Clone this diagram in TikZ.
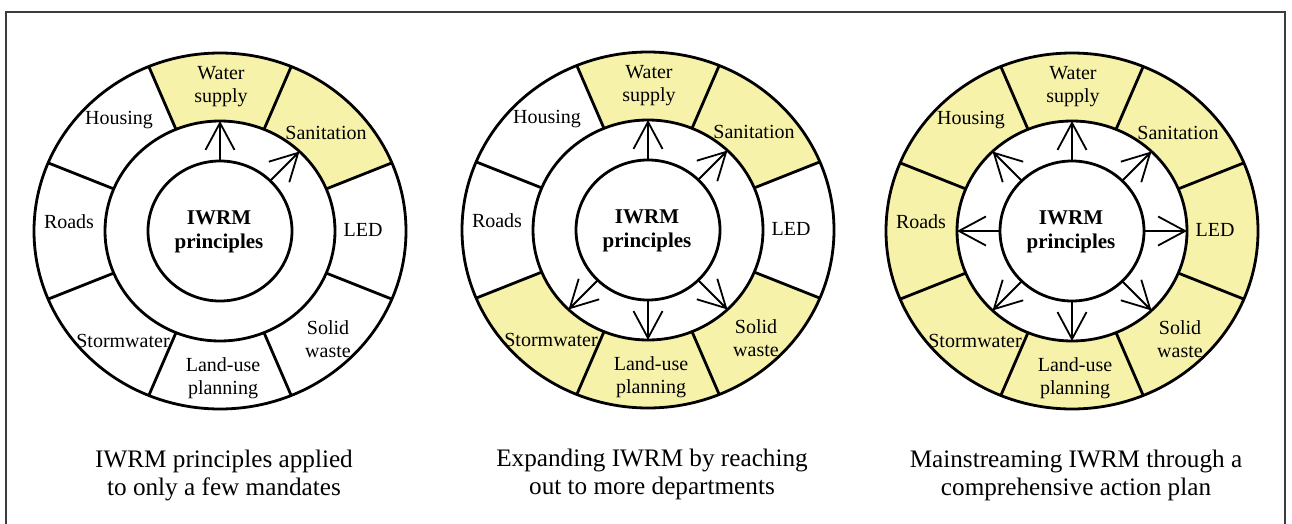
\documentclass[tikz,border=0pt]{standalone}
\usepackage{fontspec}
\setmainfont{Liberation Serif}
\usetikzlibrary{shapes.geometric,arrows.meta,calc}
\definecolor{secyellow}{RGB}{247,242,170}
\definecolor{framegray}{RGB}{60,60,60}
\tikzset{
  secfill/.style={fill=secyellow},
  divider/.style={line width=2.8pt},
  ringline/.style={ellipse, draw, line width=2.8pt, inner sep=0pt, outer sep=0pt},
  lab/.style={align=center, font=\fontsize{20}{23}\selectfont, inner sep=0pt},
  corelab/.style={align=center, font=\fontsize{21}{24}\selectfont\bfseries},
  iwrmarrow/.style={line width=1.8pt, -{Straight Barb[length=27pt, width=29pt]}},
  caption/.style={align=center, font=\fontsize{25.2}{27.5}\selectfont, inner sep=0pt, anchor=base}
}
% #1 name, #2 centre, #3 shaded sector angles, #4 arrow angles, #5 caption
\newcommand{\iwrmwheel}[5]{%
  \coordinate (#1c) at #2;
  \foreach \a [evaluate=\a as \lo using \a-22.5, evaluate=\a as \hi using \a+22.5] in {#3} {
    \fill[secfill, shift={(#1c)}] (\lo:115 and 110) arc[start angle=\lo, end angle=\hi, x radius=115, y radius=110]
      -- (\hi:186 and 178) arc[start angle=\hi, end angle=\lo, x radius=186, y radius=178] -- cycle;
  }
  \foreach \a in {22.5,67.5,...,337.5} {
    \draw[divider, shift={(#1c)}] (\a:115 and 110) -- (\a:186 and 178);
  }
  \node[ringline, minimum width=372pt, minimum height=356pt] (#1o) at (#1c) {};
  \node[ringline, fill=white, minimum width=230pt, minimum height=220pt] (#1m) at (#1c) {};
  \node[ringline, minimum width=144pt, minimum height=140pt] (#1i) at (#1c) {};
  \node[corelab] (#1t) at ($(#1c)+(-1,-1)$) {IWRM\\principles};
  \foreach \a in {#4} {
    \draw[iwrmarrow] (#1i.\a) -- (#1m.\a);
  }
  \node[lab] (#1ws) at ($(#1c)+(1,144)$) {Water\\supply};
  \node[lab] (#1sa) at ($(#1c)+(106,98)$) {Sanitation};
  \node[lab] (#1le) at ($(#1c)+(143,1)$) {LED};
  \node[lab] (#1sw) at ($(#1c)+(108,-108)$) {Solid\\waste};
  \node[lab] (#1lu) at ($(#1c)+(3,-147)$) {Land-use\\planning};
  \node[lab] (#1st) at ($(#1c)+(-97,-110)$) {Stormwater};
  \node[lab] (#1ro) at ($(#1c)+(-151,9)$) {Roads};
  \node[lab] (#1ho) at ($(#1c)+(-101,111)$) {Housing};
  \node[caption] (#1cap) at ($(#1c)+(4,-264)$) {#5};
}
\begin{document}
\begin{tikzpicture}[x=1pt,y=1pt]
  \useasboundingbox (0,0) rectangle (1292,523);
  \draw[framegray, line width=1.3pt] (6,-20) rectangle (1285,511);
  \iwrmwheel{A}{(220,292)}{90,45}{90,45}{IWRM principles applied\\to only a few mandates}
  \iwrmwheel{B}{(648,293)}{90,45,-45,-90,-135}{90,45,315,270,225}{Expanding IWRM by reaching\\out to more departments}
  \iwrmwheel{C}{(1072,292)}{0,45,90,135,180,225,270,315}{0,45,90,135,180,225,270,315}{Mainstreaming IWRM through a\\comprehensive action plan}
\end{tikzpicture}
\end{document}
